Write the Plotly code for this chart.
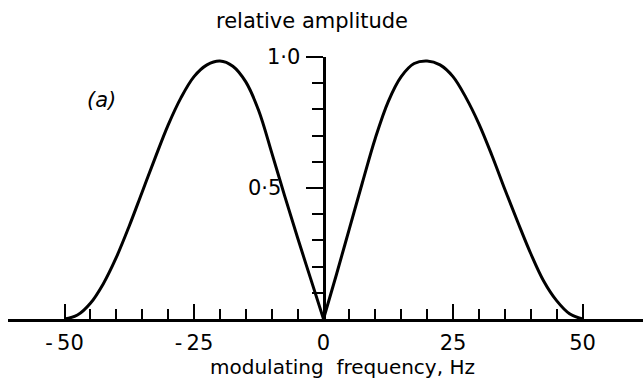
import plotly.graph_objects as go

# Modulation transfer: relative amplitude vs modulating frequency (Hz)
freq_neg = [-50, -47.5, -45, -42.5, -40, -37.5, -35, -32.5, -30, -27.5, -25,
            -22.5, -20, -17.5, -15, -12.5, -10, -7.5, -5, -2.5, 0]
amp_neg = [0.0, 0.015, 0.06, 0.135, 0.235, 0.355, 0.485, 0.615, 0.74, 0.845, 0.925,
           0.97, 0.985, 0.965, 0.905, 0.795, 0.635, 0.47, 0.31, 0.155, 0.0]

freq_pos = [0, 2.5, 5, 7.5, 10, 12.5, 15, 17.5, 20, 22.5, 25, 27.5, 30,
            32.5, 35, 37.5, 40, 42.5, 45, 47.5, 50]
amp_pos = [0.0, 0.17, 0.345, 0.52, 0.69, 0.83, 0.925, 0.975, 0.985, 0.97, 0.925,
           0.845, 0.745, 0.625, 0.495, 0.37, 0.25, 0.145, 0.07, 0.02, 0.0]

x_major = [-50, -25, 0, 25, 50]
x_major_text = ["-\u200950", "-\u200925", "0", "25", "50"]
x_minor = [-45, -40, -35, -30, -20, -15, -10, -5, 5, 10, 15, 20, 30, 35, 40, 45]
y_major = [0.5, 1.0]
y_major_text = ["0·5", "1·0"]
y_minor = [0.1, 0.2, 0.3, 0.4, 0.6, 0.7, 0.8, 0.9]

W, H = 643, 381
ML, MR, MT, MB = 8, 0, 57, 62
PW, PH = W - ML - MR, H - MT - MB
X0_PX = 323.5          # pixel column of f = 0
PX_PER_HZ = 5.18

x_lo = (ML - X0_PX) / PX_PER_HZ
x_hi = (W - MR - X0_PX) / PX_PER_HZ

FONT = "DejaVu Sans"
FS = 21
INK = "black"

fig = go.Figure()
for fx, fy in ((freq_neg, amp_neg), (freq_pos, amp_pos)):
    fig.add_trace(go.Scatter(
        x=fx, y=fy, mode="lines",
        line=dict(color=INK, width=3, shape="spline", smoothing=1.0),
        hoverinfo="skip", showlegend=False,
    ))

fig.update_layout(
    width=W, height=H,
    margin=dict(l=ML, r=MR, t=MT, b=MB, pad=0),
    paper_bgcolor="white", plot_bgcolor="white",
    font=dict(family=FONT, size=FS, color=INK),
    xaxis=dict(
        range=[x_lo, x_hi], showgrid=False, zeroline=False,
        showline=True, linecolor=INK, linewidth=2.5,
        ticks="inside", tickvals=x_major, ticktext=x_major_text,
        ticklen=15, tickwidth=2, tickcolor=INK,
        ticklabelstandoff=3,
        tickfont=dict(family=FONT, size=FS, color=INK),
        minor=dict(tickmode="array", tickvals=x_minor, ticks="inside",
                   ticklen=10, tickwidth=2, tickcolor=INK, showgrid=False),
    ),
    yaxis=dict(
        range=[0, 1.0], showgrid=False, zeroline=False,
        anchor="free", position=(X0_PX - ML) / PW,
        showline=True, linecolor=INK, linewidth=2.5,
        ticks="outside", tickvals=y_major, ticklen=17, tickwidth=2,
        tickcolor=INK, showticklabels=False,
        minor=dict(tickmode="array", tickvals=y_minor, ticks="outside",
                   ticklen=11, tickwidth=2, tickcolor=INK, showgrid=False),
    ),
)


def px(x_pixel):
    return (x_pixel - ML) / PW


def py(y_pixel):
    return (H - MB - y_pixel) / PH


notes = [
    dict(text="relative amplitude", x=px(312), y=py(21), xanchor="center", size=FS),
    dict(text="modulating&nbsp;&nbsp;frequency,&nbsp;Hz", x=px(342), y=py(367),
         xanchor="center", size=20),
    dict(text="<i>(a)</i>", x=px(101), y=py(100), xanchor="center", size=FS),
    dict(text=y_major_text[1], x=px(302), y=py(57), xanchor="right", size=FS),
    dict(text=y_major_text[0], x=px(283), y=py(188), xanchor="right", size=FS),
]
for n in notes:
    size = n.pop("size")
    fig.add_annotation(xref="paper", yref="paper", yanchor="middle",
                       showarrow=False, font=dict(family=FONT, size=size, color=INK),
                       **n)

fig.write_html("out.html")
